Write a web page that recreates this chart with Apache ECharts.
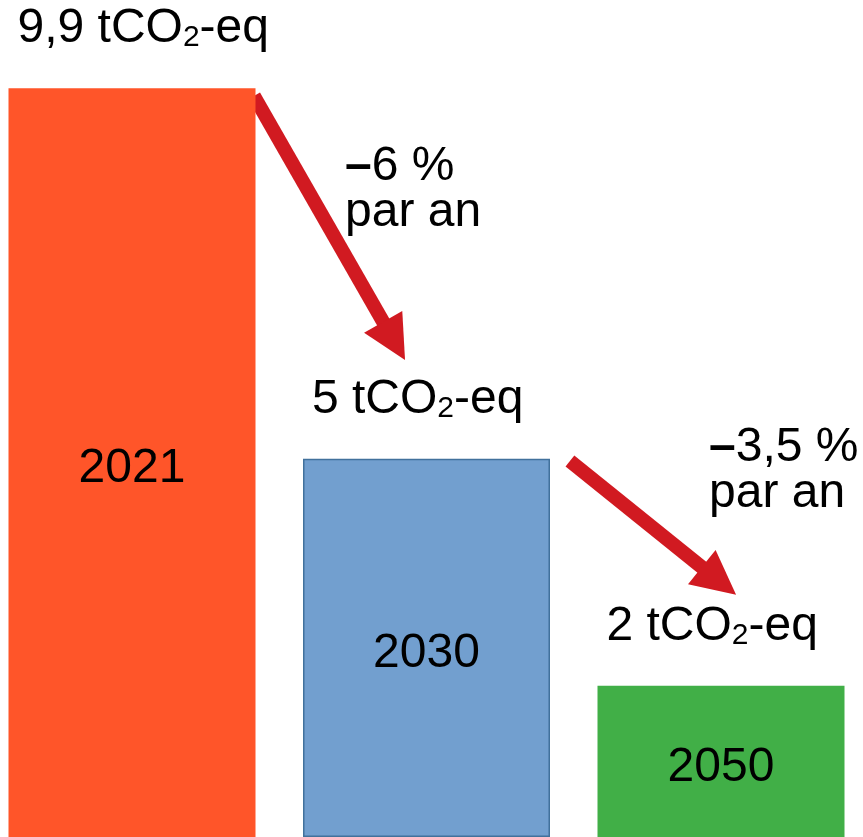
<!DOCTYPE html>
<html>
<head>
<meta charset="utf-8">
<script src="https://cdn.jsdelivr.net/npm/echarts@6/dist/echarts.min.js"></script>
<style>
  html, body { margin: 0; padding: 0; background: #fff; }
  #chart { width: 863px; height: 837px; }
</style>
</head>
<body>
<div id="chart"></div>
<script>
  // empreinte carbone par habitant (tCO2-eq)
  const years = ['2021', '2030', '2050']
  const emissions = [9.9, 5, 2]
  const rates = ['6 %', '3,5 %']

  const FONT = "'Liberation Sans', Arial, sans-serif"
  const colors = ['#FF5529', '#729FCF', '#41AF47']
  const arrowRed = '#D11A21'

  const fmt = (v) => String(v).replace('.', ',')

  const barData = emissions.map((v, i) => ({
    value: v,
    itemStyle: {
      color: colors[i],
      borderColor: i === 1 ? '#41719C' : colors[i],
      borderWidth: i === 1 ? 1.5 : 0,
    },
  }))

  const rateText = (r) => ({
    text: `{b|–}{t|${r}}\n{t|par an}`,
    rich: {
      b: { fontSize: 48, lineHeight: 46, fontWeight: 'bold', fill: '#000', fontFamily: FONT },
      t: { fontSize: 48, lineHeight: 46, fill: '#000', fontFamily: FONT },
    },
  })

  const chart = echarts.init(document.getElementById('chart'))
  chart.setOption({
    animation: false,
    textStyle: { fontFamily: FONT },
    grid: {
      left: -15.25,
      right: -5.25,
      top: 5,
      bottom: 0,
      containLabel: false,
      outerBoundsMode: 'none',
    },
    xAxis: [
      {
        type: 'category',
        data: years,
        show: false,
      },
      // axe caché pour placer les flèches
      { type: 'value', min: 0, max: 3, show: false },
    ],
    yAxis: { type: 'value', min: 0, max: 11, show: false },
    series: [
      {
        type: 'bar',
        data: barData,
        barWidth: 247,
        silent: true,
        label: {
          show: true,
          position: 'inside',
          offset: [0, 6],
          formatter: (p) => p.name,
          fontSize: 48,
          color: '#000',
          fontFamily: FONT,
        },
      },
      {
        // étiquettes de valeur au-dessus des barres
        type: 'bar',
        data: emissions,
        barWidth: 247,
        barGap: '-100%',
        silent: true,
        itemStyle: { color: 'rgba(0,0,0,0)' },
        label: {
          show: true,
          position: [9, -35],
          align: 'left',
          verticalAlign: 'bottom',
          formatter: (p) => `{v|${fmt(p.value)} tCO}{s|2}{v|-eq}`,
          rich: {
            v: { fontSize: 48, lineHeight: 48, color: '#000', fontFamily: FONT },
            s: { fontSize: 30, lineHeight: 28, verticalAlign: 'bottom', color: '#000', fontFamily: FONT },
          },
        },
      },
      {
        type: 'lines',
        coordinateSystem: 'cartesian2d',
        xAxisIndex: 1,
        yAxisIndex: 0,
        silent: true,
        symbol: ['none', 'triangle'],
        symbolSize: [45, 44],
        lineStyle: { color: arrowRed, width: 14, opacity: 1, curveness: 0 },
        data: [
          { coords: [[0.914, 9.797], [1.39, 6.558]] },
          { coords: [[1.987, 4.971], [2.493, 3.385]] },
        ],
      },
    ],
    graphic: [
      { type: 'text', left: 345, top: 143, style: rateText(rates[0]) },
      { type: 'text', left: 709, top: 424, style: rateText(rates[1]) },
    ],
  })
</script>
</body>
</html>
